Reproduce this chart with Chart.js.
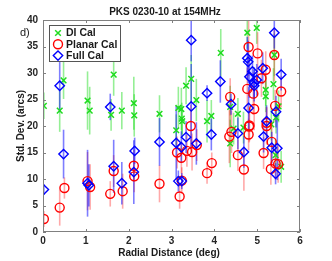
<!DOCTYPE html>
<html>
<head>
<meta charset="utf-8">
<script src="https://cdn.jsdelivr.net/npm/chart.js@4.4.0/dist/chart.umd.min.js"></script>
<style>
html, body { margin: 0; padding: 0; background: #fff; }
</style>
</head>
<body>
<canvas id="psfChart" width="332" height="261"></canvas>
<script>
// DI Cal
var diX   = [0.02, 0.39, 0.48, 1.04, 1.09, 1.65, 1.59, 1.84, 2.12, 2.13, 2.72, 3.16, 3.23, 3.24, 3.34, 3.46, 3.58, 3.11, 3.25, 3.83, 3.93, 4.15, 4.37, 4.55, 4.37, 4.77, 4.99, 4.68, 5.20, 5.20, 5.40, 5.38, 5.44, 5.33, 5.43, 5.56, 5.50, 4.45];
var diY   = [23.8, 22.9, 28.6, 24.8, 22.9, 29.7, 22.1, 22.9, 24.3, 22.0, 22.3, 23.4, 23.2, 21.4, 27.6, 28.9, 24.9, 19.2, 20.9, 20.9, 21.9, 33.8, 23.6, 22.3, 16.7, 37.6, 38.5, 19.7, 25.6, 26.8, 33.4, 27.9, 21.6, 20.3, 14.5, 12.3, 23.7, 19.5];
var diErr = [2.5, 4, 3.5, 5.5, 4.5, 4, 3, 3.5, 5, 4, 3.5, 4, 4, 3, 3.5, 4.5, 4, 3, 3, 4, 3, 4.5, 4, 3, 4.5, 3, 3, 3, 3, 3, 4, 3, 3, 3, 3, 3, 3, 3];

// Planar Cal
var plX   = [0.02, 0.39, 0.50, 1.04, 1.10, 1.57, 1.65, 1.86, 2.12, 2.13, 2.72, 3.13, 3.19, 3.23, 3.24, 3.45, 3.48, 3.36, 3.59, 3.83, 3.94, 4.35, 4.40, 4.55, 4.69, 4.81, 4.80, 5.15, 5.22, 5.22, 5.34, 5.32, 5.43, 5.49, 4.37, 4.80, 5.01, 4.77, 4.93, 4.91, 5.20, 5.10, 5.40, 5.56, 5.42, 4.82];
var plY   = [2.45, 4.6, 8.3, 9.6, 8.5, 7.2, 11.5, 7.7, 12.5, 10.5, 9.1, 15.0, 6.7, 14.0, 9.7, 20.0, 15.1, 15.3, 16.4, 11.1, 13.0, 18.0, 18.9, 14.5, 11.8, 19.9, 18.4, 14.9, 20.0, 20.6, 17.0, 11.9, 12.9, 12.8, 25.5, 34.9, 33.7, 27.0, 23.2, 26.1, 30.6, 29.0, 33.4, 26.5, 23.8, 20.1];
var plErr = [1.5, 3.4, 2, 5.5, 4.3, 2.4, 3, 3.3, 3, 3, 3.5, 3, 2.3, 3, 2.5, 4, 3.5, 3, 3, 2, 2, 5, 4, 3, 4, 3, 3, 3, 3.5, 3, 4, 3, 3, 3.5, 3.5, 5.5, 4, 4, 4, 4, 3.5, 3.5, 5, 3, 3, 3];

// Full Cal
var fuX   = [0.02, 0.48, 1.04, 1.07, 1.65, 1.84, 2.12, 2.14, 2.72, 3.11, 3.16, 3.23, 3.24, 3.34, 3.58, 3.93, 4.55, 4.69, 5.15, 5.34, 5.47, 5.43, 0.39, 1.57, 3.46, 3.46, 3.83, 4.14, 4.39, 4.77, 4.79, 4.82, 4.89, 4.93, 4.93, 4.80, 5.13, 5.40, 5.56, 5.44, 5.22, 4.99];
var fuY   = [8.0, 14.7, 9.2, 8.8, 12.4, 9.2, 11.3, 15.3, 17.0, 16.8, 9.6, 16.0, 9.6, 17.9, 16.7, 18.4, 18.6, 15.1, 18.0, 15.9, 15.8, 11.0, 27.6, 23.6, 36.2, 23.7, 26.2, 28.4, 24.1, 32.8, 32.1, 29.3, 30.3, 28.1, 27.6, 23.4, 30.9, 37.6, 29.7, 22.7, 20.9, 28.7];
var fuErr = [1, 4.6, 6.3, 4, 5, 4, 6, 2.5, 4.5, 7, 2, 3, 1.5, 3, 4, 3, 3, 3, 3, 3, 6, 2, 5, 2.5, 4, 8, 1.5, 4, 2, 4, 4, 4, 3, 3, 3, 4, 3, 3, 3, 3, 3, 3];

var xTicks = [0, 1, 2, 3, 4, 5, 6];
var yTicks = [0, 5, 10, 15, 20, 25, 30, 35, 40];

var chartTitle = 'PKS 0230-10 at 154MHz';
var xTitle = 'Radial Distance (deg)';
var yTitle = 'Std. Dev. (arcs)';
var panelLabel = 'd)';

var FONT = '"Liberation Sans", Arial, sans-serif';

function toPoints(xs, ys) {
  return xs.map(function (x, i) {
    return { x: x, y: ys[i] };
  });
}

var errorBars = {
  id: 'errorBars',
  beforeDatasetsDraw: function (chart) {
    var ctx = chart.ctx;
    var area = chart.chartArea;
    var sx = chart.scales.x, sy = chart.scales.y;
    ctx.save();
    ctx.beginPath();
    ctx.rect(area.left, area.top, area.right - area.left, area.bottom - area.top);
    ctx.clip();
    // same order as the markers: DI first, Full last
    chart.data.datasets.forEach(function (ds) {
      ctx.strokeStyle = ds.errColor;
      ctx.lineWidth = 1.6;
      ds.data.forEach(function (p, i) {
        var px = sx.getPixelForValue(p.x);
        ctx.beginPath();
        ctx.moveTo(px, sy.getPixelForValue(p.y - ds.err[i]));
        ctx.lineTo(px, sy.getPixelForValue(p.y + ds.err[i]));
        ctx.stroke();
      });
    });
    ctx.restore();
  }
};

var frame = {
  id: 'frame',
  afterDraw: function (chart) {
    var ctx = chart.ctx;
    var a = chart.chartArea;
    var sx = chart.scales.x, sy = chart.scales.y;
    ctx.save();

    // box and inward ticks
    ctx.strokeStyle = '#808080';
    ctx.lineWidth = 1;
    ctx.strokeRect(a.left + 0.5, a.top + 0.5, a.right - a.left - 1, a.bottom - a.top - 1);
    ctx.beginPath();
    xTicks.forEach(function (t) {
      var px = Math.round(sx.getPixelForValue(t)) + 0.5;
      ctx.moveTo(px, a.bottom); ctx.lineTo(px, a.bottom - 3);
      ctx.moveTo(px, a.top); ctx.lineTo(px, a.top + 3);
    });
    yTicks.forEach(function (t) {
      var py = Math.round(sy.getPixelForValue(t)) + 0.5;
      ctx.moveTo(a.left, py); ctx.lineTo(a.left + 3, py);
      ctx.moveTo(a.right, py); ctx.lineTo(a.right - 3, py);
    });
    ctx.stroke();

    // titles
    ctx.fillStyle = '#1a1a1a';
    ctx.textAlign = 'center';
    ctx.textBaseline = 'middle';
    ctx.font = 'bold 10px ' + FONT;
    ctx.fillText(chartTitle, 165, 12.5);
    ctx.fillText(xTitle, 169, 253);
    ctx.save();
    ctx.translate(21, 126);
    ctx.rotate(-Math.PI / 2);
    ctx.fillText(yTitle, 0, 0);
    ctx.restore();
    ctx.textAlign = 'left';
    ctx.font = '11px ' + FONT;
    ctx.fillText(panelLabel, 20, 33);

    // legend inside the axes
    ctx.fillStyle = '#fff';
    ctx.fillRect(49.5, 25.5, 71, 36);
    ctx.strokeStyle = '#555';
    ctx.strokeRect(49.5, 25.5, 71, 36);
    ctx.font = 'bold 10.5px ' + FONT;
    chart.data.datasets.forEach(function (ds, i) {
      var ly = 33 + i * 11.3;
      ctx.strokeStyle = ds.borderColor;
      ctx.fillStyle = 'rgba(0,0,0,0)';
      ctx.lineWidth = ds.pointBorderWidth;
      Chart.helpers.drawPoint(ctx, {
        pointStyle: ds.pointStyle,
        radius: ds.pointRadius,
        rotation: 0,
        borderWidth: ds.pointBorderWidth
      }, 58, ly);
      ctx.fillStyle = '#1a1a1a';
      ctx.fillText(ds.label, 66, ly + 0.5);
    });
    ctx.restore();
  }
};

var ctx = document.getElementById('psfChart').getContext('2d');
var psfChart = new Chart(ctx, {
  type: 'scatter',
  data: {
    datasets: [{
      label: 'DI Cal',
      data: toPoints(diX, diY),
      err: diErr,
      errColor: 'rgba(20,220,20,0.45)',
      borderColor: '#1fdc1f',
      backgroundColor: 'rgba(0,0,0,0)',
      pointStyle: 'crossRot',
      pointRadius: 4,
      pointBorderWidth: 1.5,
      order: 3
    }, {
      label: 'Planar Cal',
      data: toPoints(plX, plY),
      err: plErr,
      errColor: 'rgba(255,40,40,0.4)',
      borderColor: '#ff0000',
      backgroundColor: 'rgba(0,0,0,0)',
      pointStyle: 'circle',
      pointRadius: 4.5,
      pointBorderWidth: 1.4,
      order: 2
    }, {
      label: 'Full Cal',
      data: toPoints(fuX, fuY),
      err: fuErr,
      errColor: 'rgba(20,20,255,0.55)',
      borderColor: '#0000ff',
      backgroundColor: 'rgba(0,0,0,0)',
      pointStyle: 'rectRot',
      pointRadius: 4.7,
      pointBorderWidth: 1.4,
      order: 1
    }]
  },
  options: {
    responsive: false,
    animation: false,
    devicePixelRatio: 1,
    layout: { padding: { top: 20, right: 32, left: 0, bottom: 0 } },
    plugins: {
      legend: { display: false },
      tooltip: { enabled: false }
    },
    scales: {
      x: {
        type: 'linear',
        min: 0,
        max: 6,
        afterFit: function (s) { s.height = 29; },
        afterBuildTicks: function (s) { s.ticks = xTicks.map(function (v) { return { value: v }; }); },
        ticks: { color: '#262626', font: { family: FONT, size: 10, weight: 'bold' }, padding: 3 },
        grid: { drawOnChartArea: false, drawTicks: false },
        border: { display: false }
      },
      y: {
        type: 'linear',
        min: 0,
        max: 40,
        afterFit: function (s) { s.width = 43; },
        afterBuildTicks: function (s) { s.ticks = yTicks.map(function (v) { return { value: v }; }); },
        ticks: { color: '#262626', font: { family: FONT, size: 10, weight: 'bold' }, padding: 5 },
        grid: { drawOnChartArea: false, drawTicks: false },
        border: { display: false }
      }
    }
  },
  plugins: [errorBars, frame]
});
</script>
</body>
</html>
